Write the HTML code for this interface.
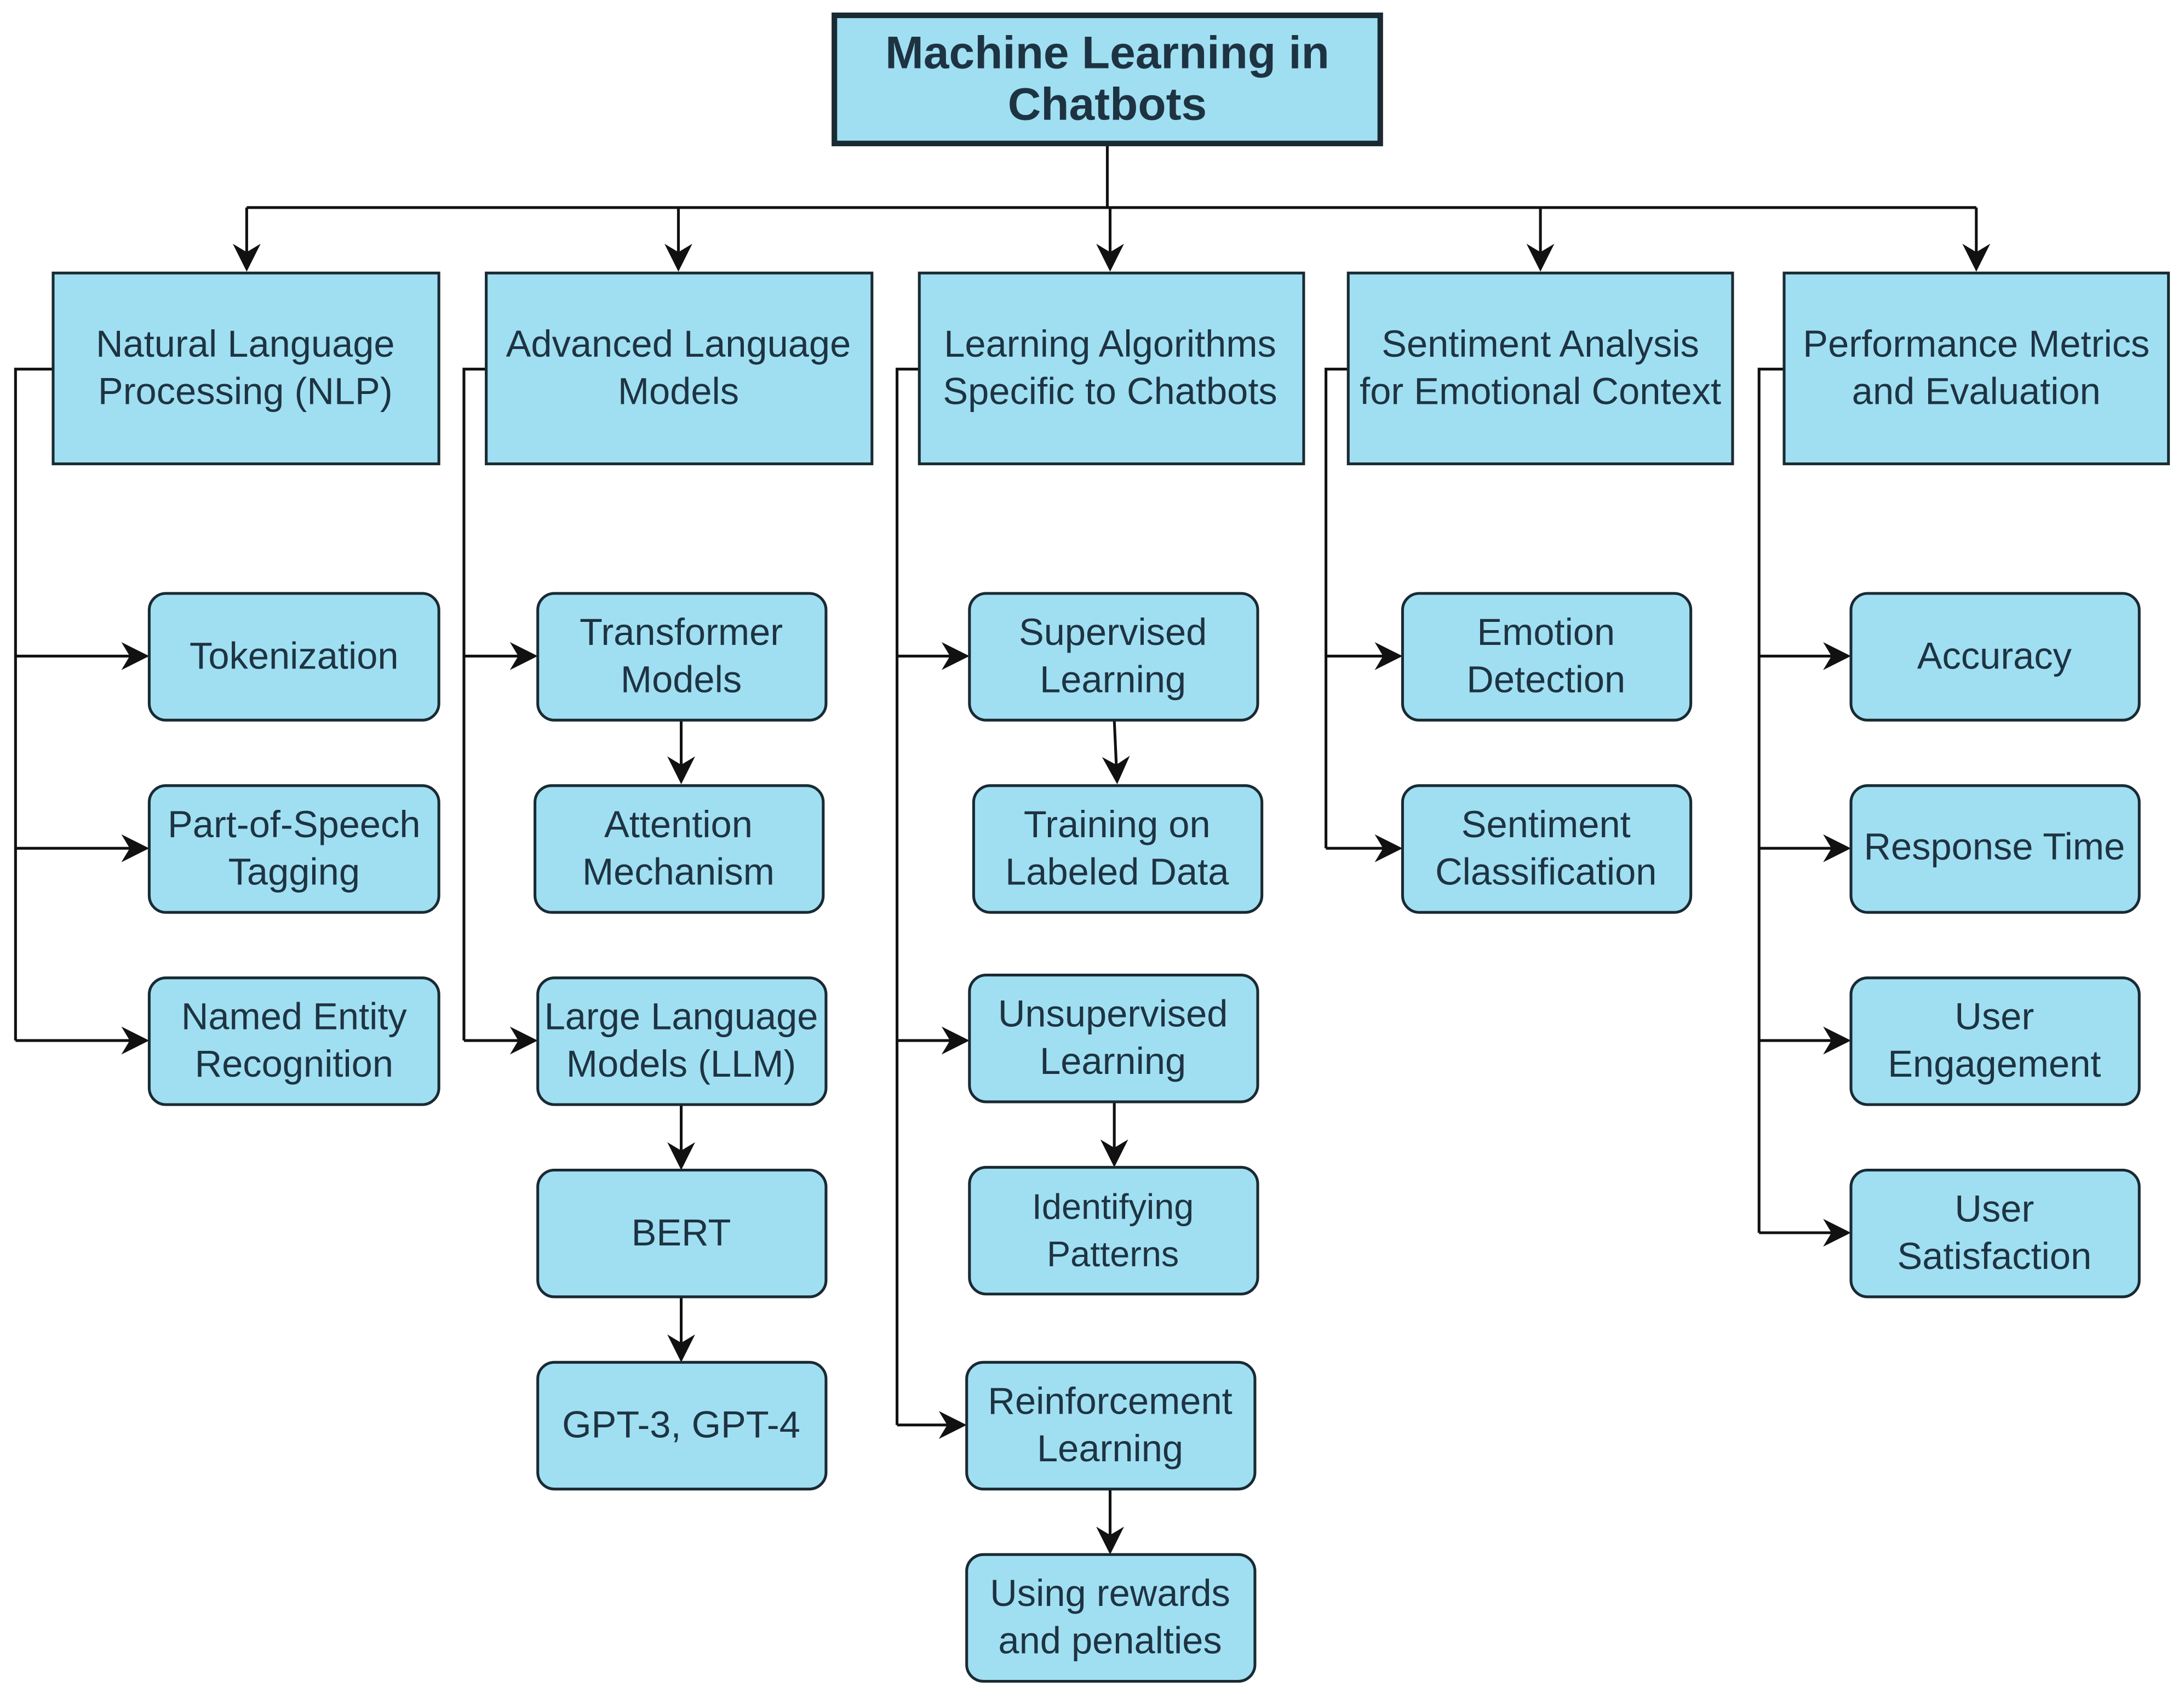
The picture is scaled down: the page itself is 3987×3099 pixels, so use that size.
<!DOCTYPE html>
<html><head><meta charset="utf-8"><style>
html,body{margin:0;padding:0;background:#fff;}
svg{display:block;}
text{font-family:"Liberation Sans",sans-serif;fill:#1e3342;text-anchor:middle;}
</style></head><body>
<svg width="3987" height="3099" viewBox="0 0 1568 1219" xmlns="http://www.w3.org/2000/svg">
<defs>
<marker id="b" viewBox="0 0 10 10" refX="9" refY="5" markerWidth="20" markerHeight="20" markerUnits="userSpaceOnUse" orient="auto">
<path d="M0,0 L10,5 L0,10 L3,5 z" fill="#111"/></marker>
</defs>
<rect width="1568" height="1219" fill="#fff"/>
<g stroke="#111" stroke-width="2" fill="none">
<path d="M795,103 V149 M177,149 H1419"/>
<path d="M177,149 V193" marker-end="url(#b)"/>
<path d="M487,149 V193" marker-end="url(#b)"/>
<path d="M797,149 V193" marker-end="url(#b)"/>
<path d="M1106,149 V193" marker-end="url(#b)"/>
<path d="M1419,149 V193" marker-end="url(#b)"/>
<path d="M38,265 H11 V747"/>
<path d="M11,471 H105" marker-end="url(#b)"/>
<path d="M11,609 H105" marker-end="url(#b)"/>
<path d="M11,747 H105" marker-end="url(#b)"/>
<path d="M349,265 H333 V747"/>
<path d="M333,471 H384" marker-end="url(#b)"/>
<path d="M333,747 H384" marker-end="url(#b)"/>
<path d="M489,517 V561" marker-end="url(#b)"/>
<path d="M489,793 V838" marker-end="url(#b)"/>
<path d="M489,931 V976" marker-end="url(#b)"/>
<path d="M660,265 H644 V1023"/>
<path d="M644,471 H694" marker-end="url(#b)"/>
<path d="M644,747 H694" marker-end="url(#b)"/>
<path d="M644,1023 H692" marker-end="url(#b)"/>
<path d="M800,517 L802,561" marker-end="url(#b)"/>
<path d="M800,791 V836" marker-end="url(#b)"/>
<path d="M797,1069 V1114" marker-end="url(#b)"/>
<path d="M968,265 H952 V609"/>
<path d="M952,471 H1005" marker-end="url(#b)"/>
<path d="M952,609 H1005" marker-end="url(#b)"/>
<path d="M1281,265 H1263 V885"/>
<path d="M1263,471 H1327" marker-end="url(#b)"/>
<path d="M1263,609 H1327" marker-end="url(#b)"/>
<path d="M1263,747 H1327" marker-end="url(#b)"/>
<path d="M1263,885 H1327" marker-end="url(#b)"/>
</g>
<g fill="#9fdff1" stroke="#1a2a33">
<rect x="599" y="11" width="392" height="92" stroke-width="4"/>
<rect x="38" y="196" width="277" height="137" stroke-width="2"/>
<rect x="349" y="196" width="277" height="137" stroke-width="2"/>
<rect x="660" y="196" width="276" height="137" stroke-width="2"/>
<rect x="968" y="196" width="276" height="137" stroke-width="2"/>
<rect x="1281" y="196" width="276" height="137" stroke-width="2"/>
<g stroke-width="2">
<rect x="107" y="426" width="208" height="91" rx="12"/>
<rect x="107" y="564" width="208" height="91" rx="12"/>
<rect x="107" y="702" width="208" height="91" rx="12"/>
<rect x="386" y="426" width="207" height="91" rx="12"/>
<rect x="384" y="564" width="207" height="91" rx="12"/>
<rect x="386" y="702" width="207" height="91" rx="12"/>
<rect x="386" y="840" width="207" height="91" rx="12"/>
<rect x="386" y="978" width="207" height="91" rx="12"/>
<rect x="696" y="426" width="207" height="91" rx="12"/>
<rect x="699" y="564" width="207" height="91" rx="12"/>
<rect x="696" y="700" width="207" height="91" rx="12"/>
<rect x="696" y="838" width="207" height="91" rx="12"/>
<rect x="694" y="978" width="207" height="91" rx="12"/>
<rect x="694" y="1116" width="207" height="91" rx="12"/>
<rect x="1007" y="426" width="207" height="91" rx="12"/>
<rect x="1007" y="564" width="207" height="91" rx="12"/>
<rect x="1329" y="426" width="207" height="91" rx="12"/>
<rect x="1329" y="564" width="207" height="91" rx="12"/>
<rect x="1329" y="702" width="207" height="91" rx="12"/>
<rect x="1329" y="840" width="207" height="91" rx="12"/>
</g></g>
<text x="795" y="49" font-size="33" font-weight="bold" fill="#102a3a">Machine Learning in</text>
<text x="795" y="86" font-size="33" font-weight="bold" fill="#102a3a">Chatbots</text>
<g font-size="27">
<text x="176" y="256">Natural Language</text><text x="176" y="290">Processing (NLP)</text>
<text x="487" y="256">Advanced Language</text><text x="487" y="290">Models</text>
<text x="797" y="256">Learning Algorithms</text><text x="797" y="290">Specific to Chatbots</text>
<text x="1106" y="256">Sentiment Analysis</text><text x="1106" y="290">for Emotional Context</text>
<text x="1419" y="256">Performance Metrics</text><text x="1419" y="290">and Evaluation</text>
<text x="211" y="480">Tokenization</text>
<text x="211" y="601">Part-of-Speech</text><text x="211" y="635">Tagging</text>
<text x="211" y="739">Named Entity</text><text x="211" y="773">Recognition</text>
<text x="489" y="463">Transformer</text><text x="489" y="497">Models</text>
<text x="487" y="601">Attention</text><text x="487" y="635">Mechanism</text>
<text x="489" y="739">Large Language</text><text x="489" y="773">Models (LLM)</text>
<text x="489" y="894">BERT</text>
<text x="489" y="1032">GPT-3, GPT-4</text>
<text x="799" y="463">Supervised</text><text x="799" y="497">Learning</text>
<text x="802" y="601">Training on</text><text x="802" y="635">Labeled Data</text>
<text x="799" y="737">Unsupervised</text><text x="799" y="771">Learning</text>
<text x="799" y="875" font-size="25.5">Identifying</text><text x="799" y="909" font-size="25.5">Patterns</text>
<text x="797" y="1015">Reinforcement</text><text x="797" y="1049">Learning</text>
<text x="797" y="1153">Using rewards</text><text x="797" y="1187">and penalties</text>
<text x="1110" y="463">Emotion</text><text x="1110" y="497">Detection</text>
<text x="1110" y="601">Sentiment</text><text x="1110" y="635">Classification</text>
<text x="1432" y="480">Accuracy</text>
<text x="1432" y="617">Response Time</text>
<text x="1432" y="739">User</text><text x="1432" y="773">Engagement</text>
<text x="1432" y="877">User</text><text x="1432" y="911">Satisfaction</text>
</g>
</svg>
</body></html>
